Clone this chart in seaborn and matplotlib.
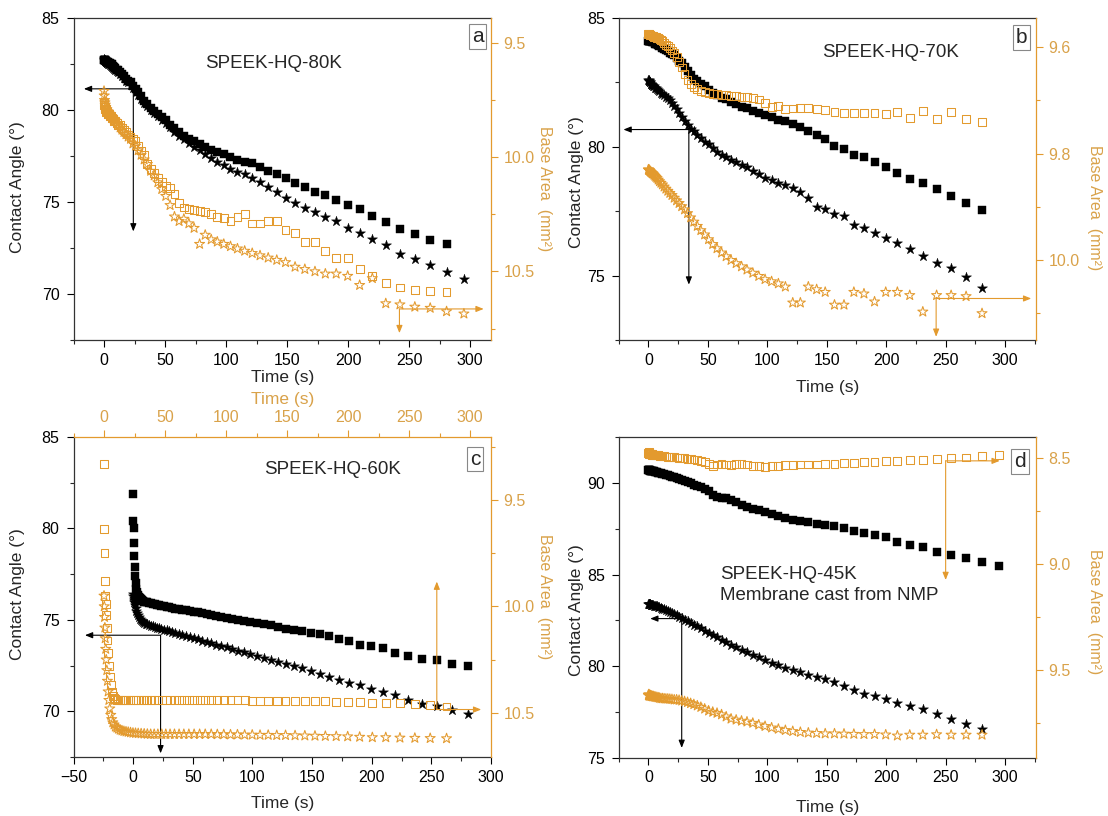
import matplotlib
matplotlib.use("Agg")
import matplotlib.pyplot as plt
from matplotlib.ticker import MultipleLocator
import pandas as pd
import seaborn as sns

sns.set_style("ticks")
plt.rcParams["font.family"] = ["Liberation Sans", "DejaVu Sans"]

# ---------------------------------------------------------------- data
# sampling times (s), shared by every run
T = [0, 0.2, 0.4, 0.7, 1.0, 1.4, 1.8, 2.3, 2.8, 3.4,
     4.0, 4.7, 5.5, 6.3, 7.2, 8.2, 9.3, 10.5, 11.8, 13.2,
     14.7, 16.3, 18.0, 19.8, 21.7, 23.7, 25.8, 28.0, 30.4, 32.9,
     35.5, 38.2, 41.1, 44.1, 47.3, 50.6, 54.1, 57.7, 61.5, 65.4,
     69.5, 73.8, 78.3, 82.9, 87.8, 92.8, 98.1, 103.6, 109.3, 115.2,
     121.4, 127.8, 134.5, 141.5, 148.7, 156.5, 164.5, 172.8, 181.3, 190.2,
     199.6, 209.4, 219.8, 230.8, 242.4, 254.6, 267.2, 280.6, 294.8]

# (a) SPEEK-HQ-80K
A_ANGLE_SQ = [82.7, 82.7, 82.7, 82.7, 82.7, 82.65, 82.65, 82.6, 82.6, 82.6,
              82.55, 82.55, 82.5, 82.5, 82.4, 82.35, 82.3, 82.2, 82.15, 82.05,
              81.95, 81.85, 81.7, 81.6, 81.5, 81.3, 81.15, 81.0, 80.75, 80.5,
              80.3, 80.1, 79.95, 79.8, 79.6, 79.45, 79.2, 79.0, 78.8, 78.6,
              78.45, 78.3, 78.15, 78.0, 77.85, 77.7, 77.6, 77.45, 77.3, 77.2,
              77.1, 76.9, 76.7, 76.5, 76.3, 76.05, 75.8, 75.55, 75.4, 75.1,
              74.85, 74.6, 74.25, 73.9, 73.55, 73.25, 72.95, 72.7]
A_ANGLE_ST = [82.75, 82.7, 82.7, 82.65, 82.65, 82.6, 82.6, 82.55, 82.55, 82.5,
              82.5, 82.45, 82.4, 82.35, 82.3, 82.25, 82.2, 82.1, 82.05, 81.95,
              81.85, 81.75, 81.6, 81.5, 81.35, 81.2, 81.0, 80.8, 80.6, 80.4,
              80.2, 80.0, 79.85, 79.65, 79.45, 79.3, 79.05, 78.8, 78.6, 78.4,
              78.2, 78.0, 77.8, 77.6, 77.4, 77.2, 77.0, 76.8, 76.65, 76.5,
              76.3, 76.1, 75.8, 75.55, 75.2, 74.95, 74.7, 74.45, 74.2, 73.95,
              73.6, 73.3, 73.0, 72.65, 72.2, 71.9, 71.55, 71.2, 70.8]
A_AREA_SQ = [9.76, 9.77, 9.78, 9.78, 9.79, 9.79, 9.80, 9.80, 9.81, 9.81,
             9.81, 9.82, 9.82, 9.83, 9.83, 9.84, 9.84, 9.85, 9.86, 9.86,
             9.87, 9.88, 9.89, 9.90, 9.91, 9.92, 9.93, 9.95, 9.97, 9.99,
             10.03, 10.05, 10.07, 10.09, 10.11, 10.125, 10.135, 10.16, 10.20, 10.22,
             10.225, 10.23, 10.235, 10.24, 10.25, 10.26, 10.265, 10.28, 10.26, 10.25,
             10.29, 10.29, 10.28, 10.28, 10.32, 10.33, 10.37, 10.37, 10.41, 10.44,
             10.44, 10.49, 10.52, 10.55, 10.57, 10.58, 10.585, 10.59]
A_AREA_ST = [9.71, 9.73, 9.75, 9.76, 9.77, 9.78, 9.79, 9.79, 9.80, 9.80,
             9.81, 9.81, 9.82, 9.82, 9.83, 9.84, 9.84, 9.85, 9.86, 9.87,
             9.88, 9.89, 9.90, 9.91, 9.92, 9.94, 9.95, 9.97, 9.99, 10.01,
             10.03, 10.06, 10.08, 10.11, 10.14, 10.17, 10.21, 10.26, 10.28, 10.27,
             10.29, 10.31, 10.38, 10.34, 10.36, 10.37, 10.38, 10.39, 10.40, 10.41,
             10.42, 10.43, 10.44, 10.45, 10.46, 10.48, 10.49, 10.50, 10.51, 10.51,
             10.52, 10.56, 10.53, 10.64, 10.645, 10.655, 10.66, 10.675, 10.685]

# (b) SPEEK-HQ-70K
B_ANGLE_SQ = [84.1, 84.1, 84.1, 84.1, 84.1, 84.1, 84.1, 84.1, 84.1, 84.05,
              84.05, 84.05, 84.0, 84.0, 84.0, 83.95, 83.9, 83.9, 83.85, 83.8,
              83.75, 83.7, 83.65, 83.6, 83.55, 83.45, 83.35, 83.25, 83.1, 82.95,
              82.8, 82.65, 82.55, 82.45, 82.35, 82.2, 82.1, 82.0, 81.9, 81.85,
              81.75, 81.65, 81.55, 81.5, 81.4, 81.3, 81.25, 81.15, 81.05, 81.0,
              80.9, 80.75, 80.6, 80.45, 80.3, 80.05, 79.9, 79.7, 79.6, 79.4,
              79.2, 79.0, 78.75, 78.6, 78.35, 78.1, 77.8, 77.55]
B_ANGLE_ST = [82.6, 82.6, 82.55, 82.55, 82.5, 82.5, 82.45, 82.45, 82.4, 82.4,
              82.35, 82.35, 82.3, 82.3, 82.25, 82.2, 82.15, 82.1, 82.05, 82.0,
              81.95, 81.9, 81.8, 81.7, 81.6, 81.45, 81.3, 81.15, 81.0, 80.85,
              80.7, 80.6, 80.45, 80.35, 80.2, 80.1, 79.95, 79.8, 79.7, 79.6,
              79.5, 79.4, 79.3, 79.2, 79.05, 78.95, 78.8, 78.7, 78.6, 78.5,
              78.4, 78.25, 78.0, 77.65, 77.6, 77.4, 77.3, 76.95, 76.85, 76.65,
              76.45, 76.25, 76.05, 75.75, 75.5, 75.3, 74.95, 74.5]
B_AREA_SQ = [9.575, 9.575, 9.575, 9.576, 9.576, 9.577, 9.577, 9.578, 9.578, 9.579,
             9.579, 9.580, 9.580, 9.581, 9.582, 9.583, 9.585, 9.587, 9.589, 9.592,
             9.595, 9.598, 9.602, 9.606, 9.611, 9.618, 9.627, 9.638, 9.650, 9.661,
             9.669, 9.675, 9.679, 9.682, 9.684, 9.686, 9.687, 9.688, 9.689, 9.690,
             9.691, 9.692, 9.693, 9.694, 9.696, 9.698, 9.705, 9.712, 9.710, 9.716,
             9.715, 9.714, 9.714, 9.716, 9.718, 9.722, 9.723, 9.723, 9.724, 9.724,
             9.725, 9.722, 9.733, 9.720, 9.734, 9.722, 9.734, 9.740]
B_AREA_ST = [9.830, 9.830, 9.831, 9.831, 9.832, 9.833, 9.834, 9.835, 9.836, 9.837,
             9.838, 9.840, 9.842, 9.844, 9.846, 9.849, 9.852, 9.855, 9.858, 9.862,
             9.866, 9.870, 9.874, 9.878, 9.883, 9.888, 9.893, 9.899, 9.905, 9.912,
             9.920, 9.928, 9.936, 9.944, 9.952, 9.961, 9.970, 9.978, 9.986, 9.993,
             10.000, 10.006, 10.012, 10.018, 10.024, 10.030, 10.036, 10.040, 10.044, 10.050,
             10.080, 10.080, 10.050, 10.055, 10.060, 10.084, 10.084, 10.060, 10.063, 10.078,
             10.060, 10.060, 10.066, 10.097, 10.066, 10.066, 10.068, 10.100]

# (c) SPEEK-HQ-60K
C_ANGLE_SQ = [81.9, 80.4, 80.0, 79.2, 78.5, 77.9, 77.4, 77.0, 76.7, 76.5,
              76.35, 76.25, 76.2, 76.15, 76.1, 76.05, 76.0, 75.98, 75.95, 75.93,
              75.9, 75.88, 75.85, 75.82, 75.8, 75.77, 75.74, 75.71, 75.68, 75.65,
              75.62, 75.58, 75.55, 75.52, 75.48, 75.45, 75.42, 75.38, 75.33, 75.28,
              75.22, 75.17, 75.12, 75.07, 75.0, 74.95, 74.88, 74.82, 74.76, 74.7,
              74.6, 74.52, 74.45, 74.38, 74.3, 74.2, 74.1, 73.95, 73.82, 73.65,
              73.55, 73.45, 73.2, 73.0, 72.85, 72.8, 72.6, 72.45]
C_ANGLE_ST = [76.4, 76.3, 76.2, 76.1, 76.0, 75.9, 75.8, 75.65, 75.5, 75.35,
              75.25, 75.15, 75.05, 74.98, 74.92, 74.87, 74.82, 74.78, 74.75, 74.72,
              74.68, 74.65, 74.6, 74.57, 74.53, 74.5, 74.46, 74.42, 74.38, 74.33,
              74.28, 74.23, 74.18, 74.12, 74.06, 74.0, 73.93, 73.86, 73.79, 73.72,
              73.65, 73.57, 73.49, 73.41, 73.32, 73.23, 73.13, 73.03, 72.93, 72.82,
              72.7, 72.58, 72.47, 72.35, 72.2, 72.05, 71.88, 71.7, 71.52, 71.42,
              71.24, 71.05, 70.87, 70.6, 70.42, 70.3, 70.06, 69.87]
C_AREA_SQ = [9.33, 9.635, 9.75, 9.88, 9.95, 9.99, 10.04, 10.10, 10.16, 10.22,
             10.28, 10.33, 10.37, 10.40, 10.42, 10.43, 10.435, 10.44, 10.44, 10.44,
             10.44, 10.44, 10.44, 10.44, 10.44, 10.44, 10.44, 10.44, 10.44, 10.44,
             10.44, 10.44, 10.44, 10.44, 10.44, 10.44, 10.44, 10.44, 10.44, 10.44,
             10.44, 10.44, 10.44, 10.44, 10.44, 10.44, 10.44, 10.44, 10.44, 10.44,
             10.443, 10.443, 10.443, 10.443, 10.445, 10.445, 10.445, 10.445, 10.445, 10.447,
             10.447, 10.45, 10.452, 10.455, 10.455, 10.46, 10.462, 10.47]
C_AREA_ST = [9.95, 10.0, 10.05, 10.10, 10.15, 10.20, 10.25, 10.30, 10.35, 10.40,
             10.44, 10.48, 10.51, 10.53, 10.545, 10.555, 10.565, 10.57, 10.575, 10.58,
             10.583, 10.586, 10.588, 10.59, 10.592, 10.594, 10.595, 10.596, 10.597, 10.598,
             10.599, 10.60, 10.60, 10.60, 10.60, 10.60, 10.60, 10.60, 10.60, 10.60,
             10.60, 10.60, 10.60, 10.60, 10.60, 10.601, 10.601, 10.602, 10.602, 10.603,
             10.603, 10.604, 10.604, 10.605, 10.605, 10.606, 10.607, 10.608, 10.609, 10.61,
             10.611, 10.613, 10.615, 10.615, 10.617, 10.618, 10.619, 10.62]

# (d) SPEEK-HQ-45K, membrane cast from NMP
D_ANGLE_SQ = [90.7, 90.7, 90.7, 90.68, 90.68, 90.67, 90.66, 90.65, 90.65, 90.64,
              90.63, 90.62, 90.61, 90.6, 90.58, 90.56, 90.54, 90.52, 90.5, 90.47,
              90.44, 90.41, 90.38, 90.34, 90.3, 90.25, 90.2, 90.15, 90.1, 90.03,
              89.97, 89.9, 89.83, 89.75, 89.68, 89.55, 89.35, 89.25, 89.2, 89.15,
              89.08, 88.95, 88.8, 88.7, 88.6, 88.52, 88.42, 88.32, 88.2, 88.1,
              88.0, 87.92, 87.85, 87.75, 87.7, 87.65, 87.55, 87.38, 87.26, 87.17,
              87.06, 86.8, 86.62, 86.5, 86.25, 86.07, 85.88, 85.7, 85.46]
D_ANGLE_ST = [83.4, 83.4, 83.4, 83.39, 83.38, 83.37, 83.36, 83.35, 83.34, 83.33,
              83.32, 83.31, 83.3, 83.28, 83.26, 83.24, 83.21, 83.18, 83.15, 83.11,
              83.07, 83.02, 82.97, 82.91, 82.85, 82.78, 82.71, 82.63, 82.55, 82.46,
              82.37, 82.27, 82.17, 82.06, 81.95, 81.83, 81.7, 81.57, 81.43, 81.3,
              81.16, 81.03, 80.89, 80.76, 80.62, 80.48, 80.34, 80.2, 80.06, 79.92,
              79.8, 79.68, 79.55, 79.42, 79.3, 79.12, 78.94, 78.72, 78.5, 78.37,
              78.2, 78.01, 77.84, 77.65, 77.38, 77.12, 76.84, 76.56]
D_AREA_SQ = [8.475, 8.47, 8.48, 8.475, 8.48, 8.478, 8.482, 8.48, 8.484, 8.482,
             8.485, 8.483, 8.486, 8.485, 8.487, 8.486, 8.488, 8.488, 8.49, 8.49,
             8.492, 8.493, 8.494, 8.495, 8.496, 8.497, 8.498, 8.5, 8.5, 8.502,
             8.504, 8.506, 8.51, 8.515, 8.52, 8.527, 8.535, 8.53, 8.528, 8.53,
             8.532, 8.528, 8.526, 8.53, 8.535, 8.537, 8.54, 8.535, 8.535, 8.533,
             8.532, 8.53, 8.53, 8.53, 8.528, 8.526, 8.524, 8.522, 8.52, 8.518,
             8.514, 8.512, 8.508, 8.508, 8.505, 8.5, 8.497, 8.49, 8.485]
D_AREA_ST = [9.618, 9.62, 9.615, 9.622, 9.618, 9.622, 9.62, 9.624, 9.622, 9.625,
             9.624, 9.626, 9.627, 9.628, 9.629, 9.63, 9.632, 9.634, 9.634, 9.635,
             9.636, 9.636, 9.637, 9.638, 9.64, 9.64, 9.642, 9.645, 9.648, 9.652,
             9.657, 9.662, 9.668, 9.675, 9.683, 9.692, 9.698, 9.703, 9.71, 9.72,
             9.73, 9.735, 9.74, 9.744, 9.75, 9.758, 9.765, 9.772, 9.778, 9.784,
             9.789, 9.793, 9.796, 9.798, 9.80, 9.80, 9.801, 9.802, 9.803, 9.803,
             9.805, 9.81, 9.806, 9.806, 9.804, 9.806, 9.806, 9.806]

TITLES = ["SPEEK-HQ-80K", "SPEEK-HQ-70K", "SPEEK-HQ-60K",
          "SPEEK-HQ-45K\nMembrane cast from NMP"]
LETTERS = ["a", "b", "c", "d"]

# ---------------------------------------------------------------- style
BLACK = "black"
ORANGE = "#E39A2E"
ORANGE_TXT = "#D9A24A"
SQ_SIZE = 32
ST_SIZE = 58
TICK_FS = 11.5
LABEL_FS = 12.5
RLABEL_FS = 11.5
TITLE_FS = 13.5

fig = plt.figure(figsize=(11.08, 8.16), dpi=100)


def frame(v):
    return pd.DataFrame({"t": T[:len(v)], "v": v})


def solid(ax, v, marker, size):
    sns.scatterplot(data=frame(v), x="t", y="v", ax=ax, marker=marker, s=size,
                    color=BLACK, edgecolor=BLACK, linewidth=0.3, legend=False,
                    zorder=3)


def hollow(ax, v, marker, size):
    sns.scatterplot(data=frame(v), x="t", y="v", ax=ax, marker=marker, s=size,
                    facecolor="none", edgecolor=ORANGE, linewidth=0.75,
                    legend=False, zorder=3)


def arrow(ax, start, end, color):
    ax.annotate("", xy=end, xytext=start, annotation_clip=False,
                arrowprops=dict(arrowstyle="-|>,head_length=0.45,head_width=0.18",
                                color=color, lw=0.8, shrinkA=0, shrinkB=0))


def style_left(ax, xlim, ylim, ymajor, xlabel_y, ylabel_pos):
    ax.set_xlim(*xlim)
    ax.set_ylim(*ylim)
    ax.xaxis.set_major_locator(MultipleLocator(50))
    ax.xaxis.set_minor_locator(MultipleLocator(25))
    ax.yaxis.set_major_locator(MultipleLocator(ymajor))
    ax.yaxis.set_minor_locator(MultipleLocator(ymajor / 2))
    ax.tick_params(which="major", direction="out", length=5, width=0.8,
                   labelsize=TICK_FS, color=BLACK, labelcolor=BLACK, pad=4)
    ax.tick_params(axis="y", which="major", pad=5)
    ax.tick_params(which="minor", direction="out", length=3, width=0.8)
    for s in ("left", "bottom", "top"):
        ax.spines[s].set_visible(True)
        ax.spines[s].set_color("#333333")
        ax.spines[s].set_linewidth(0.9)
    ax.spines["right"].set_visible(False)
    ax.set_xlabel("Time (s)", fontsize=LABEL_FS, va="center")
    ax.xaxis.set_label_coords(0.5, xlabel_y)
    ax.set_ylabel("Contact Angle (°)", fontsize=LABEL_FS, va="center")
    ax.yaxis.set_label_coords(*ylabel_pos)


def style_right(axr, ylim, ymajor, ylabel_pos):
    axr.set_ylim(*ylim)
    axr.yaxis.set_major_locator(MultipleLocator(ymajor))
    axr.yaxis.set_minor_locator(MultipleLocator(ymajor / 2))
    axr.tick_params(axis="y", which="major", direction="out", length=5,
                    width=0.8, labelsize=TICK_FS, color=ORANGE,
                    labelcolor=ORANGE_TXT, pad=4)
    axr.tick_params(axis="y", which="minor", direction="out", length=3,
                    width=0.8, color=ORANGE)
    for s in ("left", "bottom", "top"):
        axr.spines[s].set_visible(False)
    axr.spines["right"].set_visible(True)
    axr.spines["right"].set_color(ORANGE)
    axr.spines["right"].set_linewidth(0.9)
    axr.set_ylabel("Base Area  (mm²)", fontsize=RLABEL_FS, color=ORANGE_TXT,
                   rotation=270, va="center")
    axr.yaxis.set_label_coords(*ylabel_pos)


def annotate(ax, i, title_xy, title_ha, letter_xy):
    ax.text(*title_xy, TITLES[i], transform=ax.transAxes, ha=title_ha,
            va="center", fontsize=TITLE_FS, linespacing=1.25, zorder=6)
    ax.text(*letter_xy, LETTERS[i], transform=ax.transAxes, ha="center",
            va="center", fontsize=15, zorder=6,
            bbox=dict(boxstyle="square,pad=0.14", fc="white", ec="#888888",
                      lw=0.8))


W, H = 1108, 816


def rect(l, r, t, b):
    return [l / W, 1 - b / H, (r - l) / W, (b - t) / H]


# ---------------------------------------------------------------- (a)
ax = fig.add_axes(rect(73.5, 491, 18, 340))
axr = ax.twinx()
style_left(ax, (-25, 317), (67.5, 85), 5, -0.118, (-0.133, 0.475))
style_right(axr, (10.80, 9.39), 0.5, (1.129, 0.47))
solid(ax, A_ANGLE_SQ, "s", SQ_SIZE)
solid(ax, A_ANGLE_ST, "*", ST_SIZE)
hollow(axr, A_AREA_SQ, "s", SQ_SIZE)
hollow(axr, A_AREA_ST, "*", ST_SIZE)
arrow(ax, (24, 81.15), (-16.5, 81.15), BLACK)
arrow(ax, (24, 81.15), (24, 73.4), BLACK)
arrow(axr, (242, 10.664), (311, 10.664), ORANGE)
arrow(axr, (242, 10.664), (242, 10.77), ORANGE)
annotate(axr, 0, (0.478, 0.86), "center", (0.968, 0.943))

# ---------------------------------------------------------------- (b)
ax = fig.add_axes(rect(618.7, 1036, 18, 340))
axr = ax.twinx()
style_left(ax, (-25, 326), (72.5, 85), 5, -0.149, (-0.10, 0.49))
style_right(axr, (10.15, 9.545), 0.2, (1.141, 0.41))
solid(ax, B_ANGLE_SQ, "s", SQ_SIZE)
solid(ax, B_ANGLE_ST, "*", ST_SIZE)
hollow(axr, B_AREA_SQ, "s", SQ_SIZE)
hollow(axr, B_AREA_ST, "*", ST_SIZE)
arrow(ax, (34, 80.67), (-21, 80.67), BLACK)
arrow(ax, (34, 80.67), (34, 74.65), BLACK)
arrow(axr, (242, 10.072), (322, 10.072), ORANGE)
arrow(axr, (242, 10.072), (242, 10.144), ORANGE)
annotate(axr, 1, (0.652, 0.894), "center", (0.966, 0.939))

# ---------------------------------------------------------------- (c)
ax = fig.add_axes(rect(73.5, 491, 437, 757))
axr = ax.twinx()
axt = axr.twiny()
style_left(ax, (-50, 300), (67.5, 85), 5, -0.144, (-0.133, 0.51))
ax.spines["top"].set_visible(False)
style_right(axr, (10.707, 9.204), 0.5, (1.129, 0.50))
axt.set_xlim(-25, 317)
axt.xaxis.set_major_locator(MultipleLocator(50))
axt.xaxis.set_minor_locator(MultipleLocator(25))
axt.tick_params(axis="x", which="major", direction="out", length=5, width=0.8,
                labelsize=TICK_FS, color=ORANGE, labelcolor=ORANGE_TXT, pad=4)
axt.tick_params(axis="x", which="minor", direction="out", length=3, width=0.8,
                color=ORANGE)
for s in ("left", "bottom", "right"):
    axt.spines[s].set_visible(False)
axt.spines["top"].set_visible(True)
axt.spines["top"].set_color(ORANGE)
axt.spines["top"].set_linewidth(0.9)
axt.set_xlabel("Time (s)", fontsize=LABEL_FS, color=ORANGE_TXT, va="center")
axt.xaxis.set_label_coords(0.5, 1.116)
solid(ax, C_ANGLE_SQ, "s", SQ_SIZE)
solid(ax, C_ANGLE_ST, "*", ST_SIZE)
hollow(axt, C_AREA_SQ, "s", SQ_SIZE)
hollow(axt, C_AREA_ST, "*", ST_SIZE)
axt.set_xlim(-25, 317)
axt.set_ylim(10.707, 9.204)
arrow(ax, (23, 74.16), (-40.4, 74.16), BLACK)
arrow(ax, (23, 74.16), (23, 67.7), BLACK)
arrow(axt, (272.6, 10.484), (272.6, 9.883), ORANGE)
arrow(axt, (272.6, 10.484), (309, 10.484), ORANGE)
annotate(axt, 2, (0.62, 0.897), "center", (0.962, 0.931))

# ---------------------------------------------------------------- (d)
ax = fig.add_axes(rect(618.7, 1036, 437, 758))
axr = ax.twinx()
style_left(ax, (-25, 326), (75, 92.5), 5, -0.154, (-0.10, 0.46))
style_right(axr, (9.915, 8.40), 0.5, (1.141, 0.455))
solid(ax, D_ANGLE_SQ, "s", SQ_SIZE)
solid(ax, D_ANGLE_ST, "*", ST_SIZE)
hollow(axr, D_AREA_SQ, "s", SQ_SIZE)
hollow(axr, D_AREA_ST, "*", ST_SIZE)
arrow(ax, (28, 82.6), (1.5, 82.6), BLACK)
arrow(ax, (28, 82.6), (28, 75.55), BLACK)
arrow(axr, (250, 8.5126), (295.5, 8.5126), ORANGE)
arrow(axr, (250, 8.5126), (250, 9.075), ORANGE)
annotate(axr, 3, (0.243, 0.539), "left", (0.962, 0.924))

fig.savefig("out.png", dpi=100, facecolor="white")
